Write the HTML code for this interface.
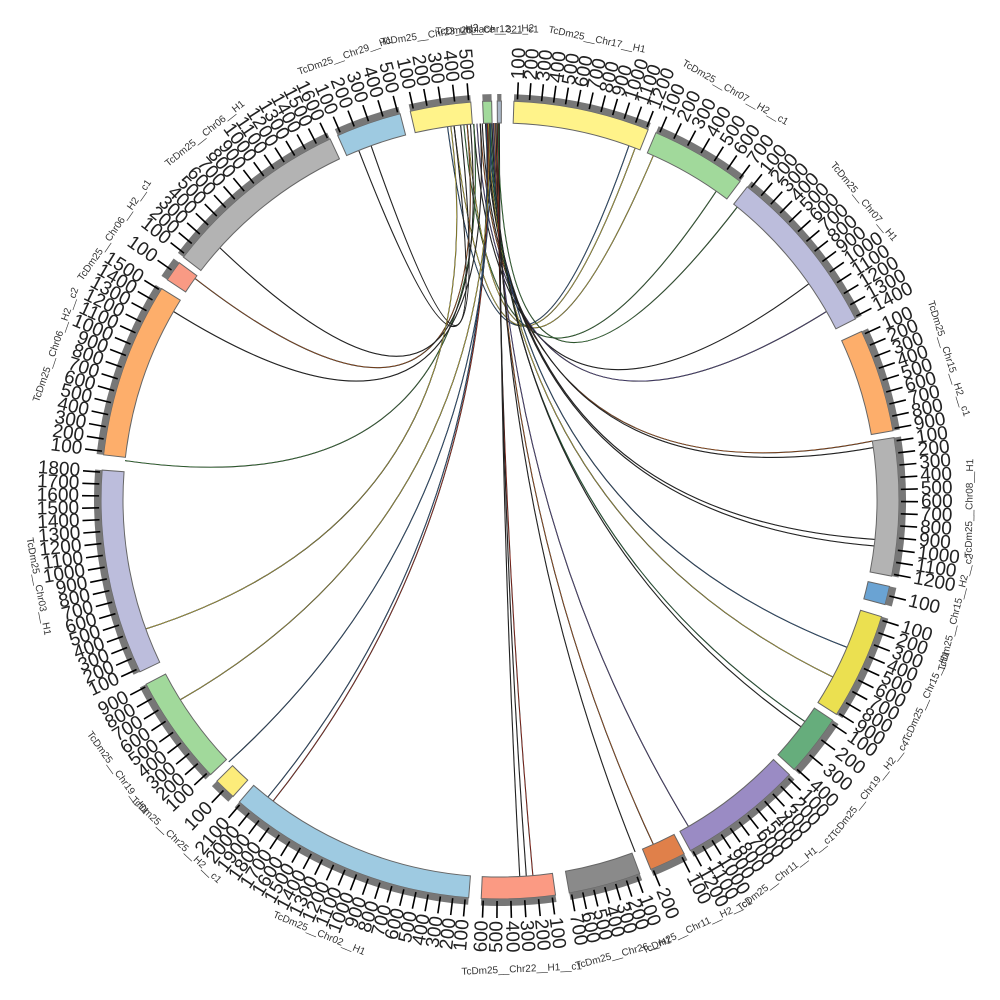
<!DOCTYPE html>
<html><head><meta charset="utf-8"><style>
html,body{margin:0;padding:0;background:#fff;width:1000px;height:1000px;overflow:hidden}
svg{display:block}
</style></head><body>
<svg id="s" width="1000" height="1000" xmlns="http://www.w3.org/2000/svg"></svg>
<script>
var S=document.getElementById('s'),NS='http://www.w3.org/2000/svg',C=500;
function P(r,a){a=a*Math.PI/180;return [C+r*Math.sin(a),C-r*Math.cos(a)];}
function el(t,at,txt){var e=document.createElementNS(NS,t);for(var k in at)e.setAttribute(k,at[k]);if(txt!=null)e.textContent=txt;S.appendChild(e);return e;}
function sector(r1,r2,a1,a2,fill,stroke){var p1=P(r2,a1),p2=P(r2,a2),p3=P(r1,a2),p4=P(r1,a1);var lg=(a2-a1)>180?1:0;
return el('path',{d:'M'+p1+' A'+r2+','+r2+' 0 '+lg+' 1 '+p2+' L'+p3+' A'+r1+','+r1+' 0 '+lg+' 0 '+p4+'Z',fill:fill,stroke:stroke||'none','stroke-width':1});}
var segs=[
['TcDm25__Chr17__H1',2,21.8,'#fff38a',12],
['TcDm25__Chr07__H2__c1',23,37,'#a1d99b',7],
['TcDm25__Chr07__H1',38.3,63,'#bcbddc',14],
['TcDm25__Chr15__H2__c1',65,80,'#fdae6b',9],
['TcDm25__Chr08__H1',81,101,'#b3b3b3',12],
['TcDm25__Chr15__H2__c2',102.5,105.2,'#6aa3d3',1],
['TcDm25__Chr15__H1',107,122.5,'#ebe050',9],
['TcDm25__Chr19__H2__c4',123.5,132.5,'#66ad7c',4],
['TcDm25__Chr11__H1__c1',133.5,151.5,'#9a8bc4',12],
['TcDm25__Chr11__H2__c1',152.5,157.8,'#e0804a',2],
['TcDm25__Chr26__H1',159.5,170,'#8a8a8a',7],
['TcDm25__Chr22__H1__c1',172,182.7,'#fb9a83',6],
['TcDm25__Chr02__H1',184.5,220.8,'#9ecae1',21],
['TcDm25__Chr25__H2__c1',222,225.2,'#fcec7a',1],
['TcDm25__Chr19__H1',226.5,242.5,'#a1d99b',9],
['TcDm25__Chr03__H1',244.5,274.3,'#bcbddc',18],
['TcDm25__Chr06__H2__c2',276.5,302,'#fdae6b',15],
['TcDm25__Chr06__H2__c1',303.5,306.5,'#f99a84',1],
['TcDm25__Chr06__H1',307.5,334.8,'#b3b3b3',16],
['TcDm25__Chr29__H1',336,345.5,'#9ecae1',5],
['TcDm25__Chr23__H2',347,355.8,'#fff38a',5],
['TcDm25__Chr12__H2',357.5,358.8,'#a1d99b',0],
['unplace__321_c1',359.6,360.2,'#aab8c8',0]
];
var R1=377,R2=399;
var links=[
[352,20,'#3a6ea5'],[353,21,'#e8d84a'],[354.5,35,'#4a9a4a'],[355,24,'#e8d84a'],[356,55,'#333'],[356.5,60,'#6b5ea8'],
[357,81,'#c86a2a'],[357.3,82,'#333'],[357.8,97,'#333'],[358,96,'#333'],[358.2,118,'#e8d84a'],[358.4,113,'#3a6ea5'],
[358.6,126,'#2f8f4f'],[358.8,127,'#333'],[359,150,'#6b5ea8'],[359.2,156,'#c86a2a'],[359.4,159,'#333'],[359.6,175,'#c83a2a'],
[359.8,176,'#333'],[359.9,177,'#333'],[357.9,218,'#3a6ea5'],[358.1,217,'#c83a2a'],[358.3,238,'#e8d84a'],[358.5,226,'#3a6ea5'],
[356,276,'#4a9a4a'],[355,306,'#c86a2a'],[355.5,312,'#333'],[354,338,'#333'],[353,340,'#333'],[359.7,39,'#4a9a4a'],
[357,300,'#333'],[352.5,250,'#e8d84a']
];
links.forEach(function(l){var a=P(R1,l[0]),b=P(R1,l[1]);
el('path',{d:'M'+a+' Q'+C+','+(C+15)+' '+b,fill:'none',stroke:'#111','stroke-width':1.1});
el('path',{d:'M'+a+' Q'+C+','+(C+15)+' '+b,fill:'none',stroke:l[2],'stroke-width':0.5});});
segs.forEach(function(s){
 sector(R1,R2,s[1],s[2],s[3],'#666');
 sector(R2,406,s[1],s[2],'#777');
 var n=s[4];
 for(var i=0;i<n;i++){var a=s[1]+0.5+i*(s[2]-s[1]-0.8)/Math.max(n-1,1); if(n==1)a=(s[1]+s[2])/2;
  var p=P(401,a),q=P(418,a);el('line',{x1:p[0],y1:p[1],x2:q[0],y2:q[1],stroke:'#000','stroke-width':1.6});
  var t=P(421,a),rot,anc;
  if(a<180){rot=a-90;anc='start';}else{rot=a+90;anc='end';}
  el('text',{x:t[0],y:t[1],transform:'rotate('+rot+' '+t[0]+' '+t[1]+')','text-anchor':anc,'dominant-baseline':'central','font-family':'Liberation Sans, sans-serif','font-size':19,fill:'#222','font-weight':300},String((i+1)*100));
 }
 var m=(s[1]+s[2])/2,lp=P(470,m),r2=(m<90||m>270)?m:m-180;
 el('text',{x:lp[0],y:lp[1],transform:'rotate('+r2+' '+lp[0]+' '+lp[1]+')','text-anchor':'middle','dominant-baseline':'central','font-family':'Liberation Sans, sans-serif','font-size':10,fill:'#333'},s[0]);
});
</script>
</body></html>
